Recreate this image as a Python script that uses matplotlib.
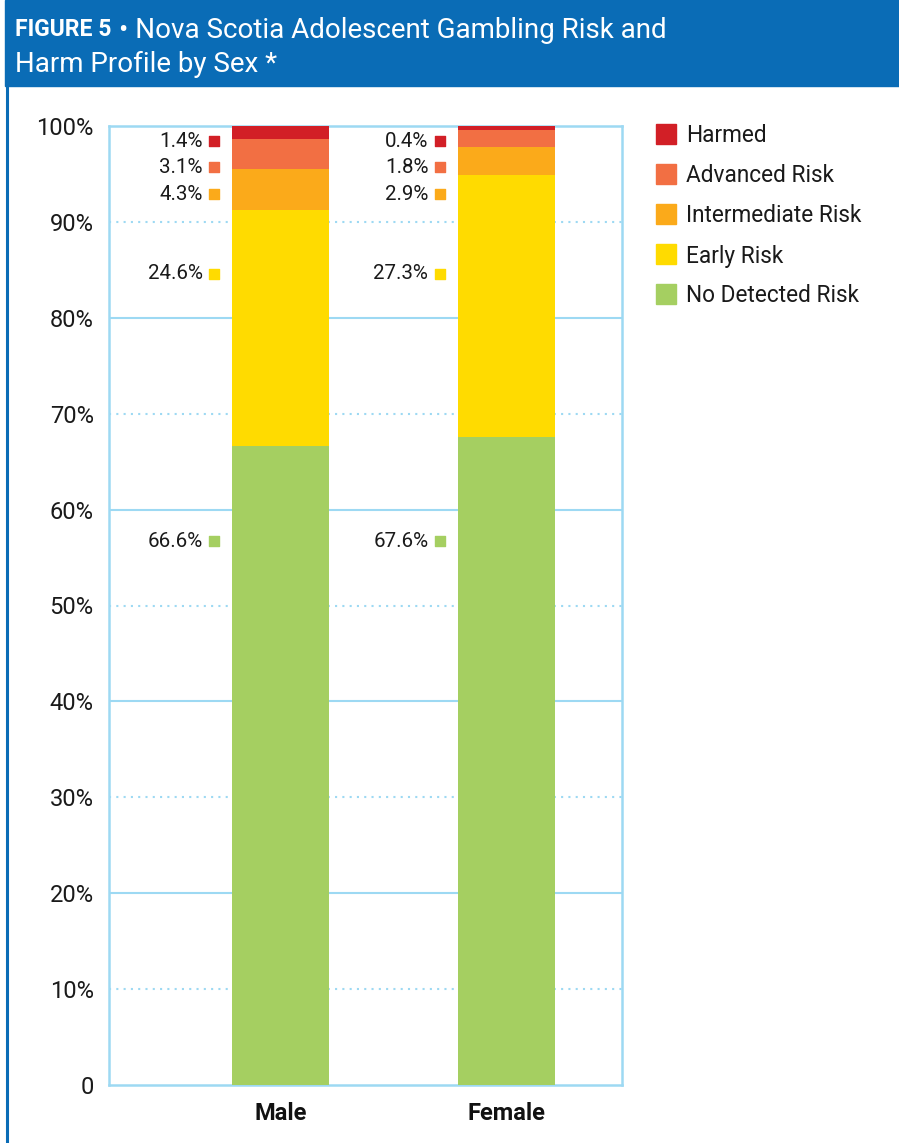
import matplotlib
matplotlib.use("Agg")
import matplotlib.pyplot as plt
from matplotlib.patches import Rectangle
from matplotlib.lines import Line2D

# survey shares (%) by sex, stacked bottom -> top
groups = ["Male", "Female"]
levels = ["No Detected Risk", "Early Risk", "Intermediate Risk", "Advanced Risk", "Harmed"]
male = [66.6, 24.6, 4.3, 3.1, 1.4]
female = [67.6, 27.3, 2.9, 1.8, 0.4]
colors = ["#a5cf61", "#ffdb00", "#fbaa1a", "#f26f43", "#d21f26"]
# where the value labels sit on the y axis (not segment midpoints)
label_y = [56.7, 84.6, 92.9, 95.7, 98.4]

BLUE = "#0a6cb6"
GRID = "#9dd9f3"
plt.rcParams["font.family"] = ["Roboto", "DejaVu Sans"]

W, H = 899, 1143
fig = plt.figure(figsize=(W / 100, H / 100), dpi=100)


def fx(px):
    return px / W


def fy(py):
    return 1 - py / H


# title banner and left rule
fig.patches.append(Rectangle((fx(5), fy(86)), 1, 86 / H, transform=fig.transFigure,
                             color=BLUE, zorder=0))
fig.add_artist(Line2D([fx(6.5), fx(6.5)], [0, fy(86)], color=BLUE, lw=2.2))
fig.text(fx(15), fy(30), "FIGURE 5", color="white", fontsize=16.5, fontweight="bold",
         va="center")
fig.text(fx(119), fy(30), "\u2022 Nova Scotia Adolescent Gambling Risk and", color="white",
         fontsize=20, va="center")
fig.text(fx(15), fy(64), "Harm Profile by Sex *", color="white", fontsize=20,
         va="center")

ax = fig.add_axes([fx(109), fy(1085), (622 - 109) / W, (1085 - 126) / H])
x = range(len(groups))
bottoms = [0.0, 0.0]
for i, c in enumerate(colors):
    vals = [male[i], female[i]]
    ax.bar(x, vals, bottom=bottoms, width=0.43, color=c, zorder=3, clip_on=False)
    bottoms = [b + v for b, v in zip(bottoms, vals)]
    for j, v in enumerate(vals):
        ax.text(j - 0.345, label_y[i], f"{v:.1f}%", ha="right", va="center",
                fontsize=14.8, color="#1a1a1a")
        ax.scatter(j - 0.293, label_y[i], marker="s", s=62, color=c, zorder=4)

ax.set_xlim(-0.7605, 1.514)
ax.set_ylim(0, 100)
for y in range(20, 100, 20):
    ax.axhline(y, color=GRID, lw=1.5, zorder=1)
for y in range(10, 100, 20):
    ax.axhline(y, color=GRID, lw=1.5, ls=(0, (1, 2.5)), zorder=1)
for s in ax.spines.values():
    s.set_color(GRID)
    s.set_linewidth(1.8)

ax.set_yticks(range(0, 101, 10))
ax.set_yticklabels(["0"] + [f"{v}%" for v in range(10, 101, 10)], fontsize=17,
                   color="#1a1a1a")
ax.set_xticks(list(x))
ax.set_xticklabels(groups, fontsize=17, fontweight="bold", color="#111111")
ax.tick_params(length=0)
ax.tick_params(axis="y", pad=11)
ax.tick_params(axis="x", pad=12)

# legend, top to bottom
for k, i in enumerate(reversed(range(len(levels)))):
    yc = 134 + 40 * k
    fig.patches.append(Rectangle((fx(656), fy(yc + 10)), 20 / W, 20 / H,
                                 transform=fig.transFigure, color=colors[i]))
    fig.text(fx(686), fy(yc + 2), levels[i], fontsize=16.3, color="#1a1a1a",
             va="center")

fig.savefig("out.png", dpi=100)
